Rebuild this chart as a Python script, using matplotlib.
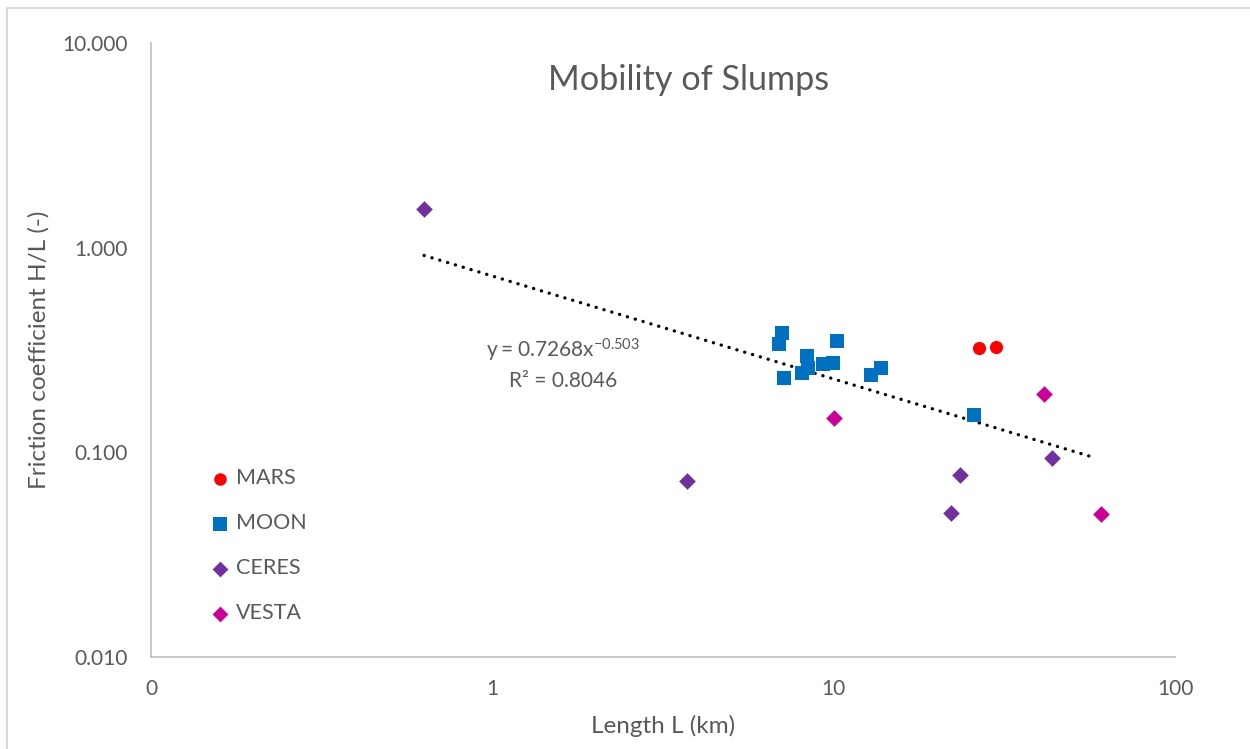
import numpy as np
import matplotlib.pyplot as plt
from matplotlib.patches import Rectangle

plt.rcParams['font.family'] = ['Lato', 'DejaVu Sans']

# slump length L (km) and friction coefficient H/L per body
mars_L = [26.7, 29.8]
mars_HL = [0.325, 0.327]

moon_L = [7.06, 6.90, 10.2, 8.34, 8.43, 8.07, 7.14, 9.33, 9.94, 12.85, 13.74, 25.7]
moon_HL = [0.383, 0.340, 0.351, 0.296, 0.259, 0.243, 0.231, 0.271, 0.274, 0.240, 0.258, 0.153]

ceres_L = [0.631, 3.72, 23.4, 22.1, 43.5]
ceres_HL = [1.545, 0.0725, 0.0778, 0.0507, 0.0939]

vesta_L = [10.0, 41.3, 60.7]
vesta_HL = [0.147, 0.192, 0.0502]

# power-law fit over all points
fit_a = 0.7268
fit_b = -0.503
fit_r2 = 0.8046

grey = '#595959'
axis_grey = '#BFBFBF'

fig = plt.figure(figsize=(12.5, 7.49), dpi=100)
ax = fig.add_axes([0.1208, 0.1228, 0.8192, 0.8198])

ax.scatter(mars_L, mars_HL, marker='o', s=90, color='#FF0000', label='MARS', zorder=3, linewidths=0)
ax.scatter(moon_L, moon_HL, marker='s', s=105, color='#0070C0', label='MOON', zorder=3, linewidths=0)
ax.scatter(ceres_L, ceres_HL, marker='D', s=72, color='#7030A0', label='CERES', zorder=3, linewidths=0)
ax.scatter(vesta_L, vesta_HL, marker='D', s=72, color='#CC0099', label='VESTA', zorder=3, linewidths=0)

all_L = mars_L + moon_L + ceres_L + vesta_L
xs = np.geomspace(min(all_L), 58, 200)
ax.plot(xs, fit_a * xs ** fit_b, color='black', lw=2.4,
        linestyle=(0, (0.05, 2.4)), dash_capstyle='round', zorder=2)

ax.text(0.402, 0.50, r'$\mathregular{y = %.4fx^{%.3f}}$' % (fit_a, fit_b), transform=ax.transAxes,
        ha='center', va='center', fontsize=15, color=grey)
ax.text(0.402, 0.45, f'R² = {fit_r2}', transform=ax.transAxes,
        ha='center', va='center', fontsize=15, color=grey)

ax.set_xscale('log')
ax.set_yscale('log')
ax.set_xlim(0.1, 100)
ax.set_ylim(0.01, 10)
ax.set_xticks([0.1, 1, 10, 100])
ax.set_xticklabels(['0', '1', '10', '100'])
ax.set_yticks([0.01, 0.1, 1, 10])
ax.set_yticklabels(['0.010', '0.100', '1.000', '10.000'])
ax.minorticks_off()
ax.tick_params(length=0, labelsize=15, labelcolor=grey)
ax.tick_params(axis='x', pad=16)
ax.tick_params(axis='y', pad=16.5)

for side in ['top', 'right']:
    ax.spines[side].set_visible(False)
for side in ['left', 'bottom']:
    ax.spines[side].set_color(axis_grey)
    ax.spines[side].set_linewidth(1.2)

ax.set_xlabel('Length L (km)', fontsize=17.5, color=grey, labelpad=11)
ax.set_ylabel('Friction coefficient H/L (-)', fontsize=17.5, color=grey, labelpad=9.5)

fig.text(0.551, 0.893, 'Mobility of Slumps', ha='center', va='center', fontsize=24.7, color=grey)

leg = ax.legend(loc='lower left', bbox_to_anchor=(0.051, 0.041), frameon=False,
                fontsize=15.5, labelspacing=1.16, handlelength=0.8, handletextpad=0.3,
                markerscale=0.95, borderaxespad=0)
for t in leg.get_texts():
    t.set_color(grey)

# chart area outline
fig.patches.append(Rectangle((7 / 1250, -0.05), 1.1, 1.05 - 8 / 749, transform=fig.transFigure,
                             fill=False, edgecolor='#D9D9D9', lw=1.5))

fig.savefig('out.png', dpi=100)
